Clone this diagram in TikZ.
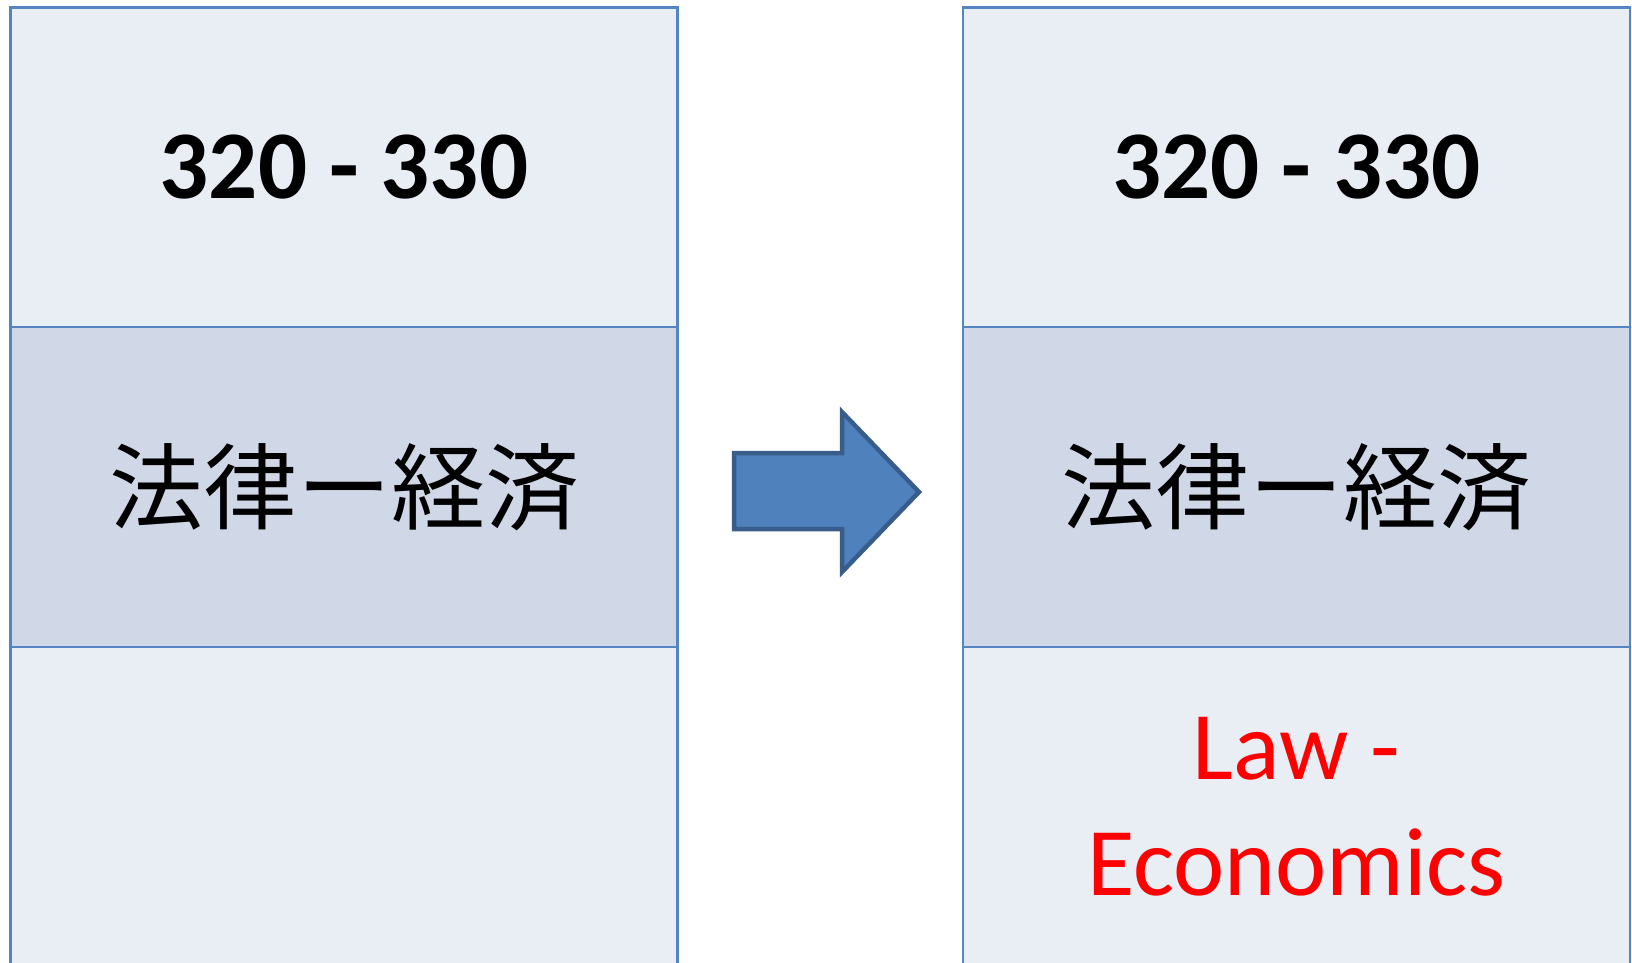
\documentclass[tikz,border=0pt]{standalone}
\usepackage{fontspec}
\setmainfont{Carlito}
\newfontfamily\jpfont{Noto Sans CJK JP}
\usepackage{tikz}

\definecolor{celllight}{HTML}{E9EDF4}
\definecolor{celldark}{HTML}{D0D8E8}
\definecolor{cellline}{HTML}{5584C2}
\definecolor{arrowfill}{HTML}{4F81BD}
\definecolor{arrowline}{HTML}{385D8A}

\tikzset{
  cell/.style={rectangle, draw=cellline, line width=2.5pt, minimum width=667pt,
    minimum height=320pt, inner sep=0pt, align=center},
  rangecell/.style={cell, fill=celllight, font=\fontsize{97}{118}\selectfont\bfseries},
  namecell/.style={cell, fill=celldark, font=\fontsize{94}{118}\selectfont\jpfont},
  transcell/.style={cell, fill=celllight, text=red, font=\fontsize{97}{116}\selectfont}
}

\begin{document}
\begin{tikzpicture}[x=1pt, y=-1pt]

 \useasboundingbox (0,0) rectangle (1632,962);

 %%%  nodes

 % left table
 \node [rangecell] (lrange) at (344,167.5) {320 - 330};
 \node [namecell] (lname) at (344,487) {法律ー経済};
 \node [transcell] (ltrans) at (344,807) {};

 % right table
 \node [rangecell] (rrange) at (1296.5,167.5) {320 - 330};
 \node [namecell] (rname) at (1296.5,487) {法律ー経済};
 \node [transcell] (rtrans) at (1296.5,807) {Law -\\Economics};

 %%%  arrow

 \draw [fill=arrowfill, draw=arrowline, line width=4.5pt, line join=miter]
   (734,453) -- (842,453) -- (842,412) -- (919,492) -- (842,572)
   -- (842,529) -- (734,529) -- cycle;

\end{tikzpicture}
\end{document}
